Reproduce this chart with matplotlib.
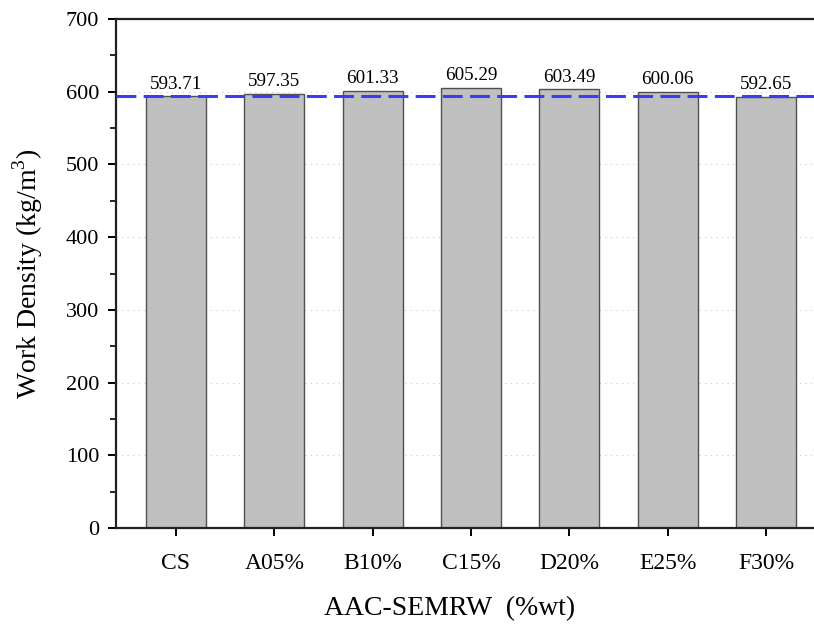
import numpy as np
import matplotlib
matplotlib.use("Agg")
import matplotlib.pyplot as plt
from matplotlib.ticker import MultipleLocator

# data
categories = ["CS", "A05%", "B10%", "C15%", "D20%", "E25%", "F30%"]
density = [593.71, 597.35, 601.33, 605.29, 603.49, 600.06, 592.65]
reference_value = 593.71  # CS level, shown as dashed line

plt.rcParams["font.family"] = "Liberation Serif"
plt.rcParams["mathtext.fontset"] = "custom"
plt.rcParams["mathtext.rm"] = "Liberation Serif"

fig = plt.figure(figsize=(8.14, 6.26), dpi=100)
ax = fig.add_axes([116 / 814, 1 - 528 / 626, 710 / 814, 509 / 626])

x = np.arange(len(categories))
ax.bar(x, density, width=0.61, color="#c0c0c0", edgecolor="#505050",
       linewidth=1.0, zorder=2)

for xi, v in zip(x, density):
    ax.text(xi, v + 5, f"{v:.2f}", ha="center", va="bottom", fontsize=13.8,
            zorder=4)

ax.axhline(reference_value, color="#3c3cf5", linestyle=(0, (6.5, 2.4)),
           linewidth=2.2, zorder=3)

ax.set_xlim(-0.61, len(categories) - 1 + 0.61)
ax.set_ylim(0, 700)
ax.yaxis.set_major_locator(MultipleLocator(100))
ax.yaxis.set_minor_locator(MultipleLocator(50))
ax.set_xticks(x)
ax.set_xticklabels(categories)

ax.grid(axis="y", which="major", linestyle=(0, (1, 4)), color="#c8c8c8",
        linewidth=0.8, zorder=0)

for side in ["left", "bottom", "top"]:
    ax.spines[side].set_linewidth(1.6)
    ax.spines[side].set_color("#222222")
ax.spines["right"].set_visible(False)

ax.tick_params(axis="both", which="major", direction="out", length=6,
               width=1.4)
ax.tick_params(axis="y", which="major", labelsize=16, pad=6)
ax.tick_params(axis="y", which="minor", direction="out", length=4, width=1.2)
ax.tick_params(axis="x", which="major", labelsize=17, pad=12)

ax.set_ylabel("Work Density (kg/m$^3$)", fontsize=20)
ax.set_xlabel("AAC-SEMRW  (%wt)", fontsize=20)
ax.yaxis.set_label_coords(-0.1, 0.5)
ax.xaxis.set_label_coords(0.47, -0.134)

fig.savefig("out.png", dpi=100)
